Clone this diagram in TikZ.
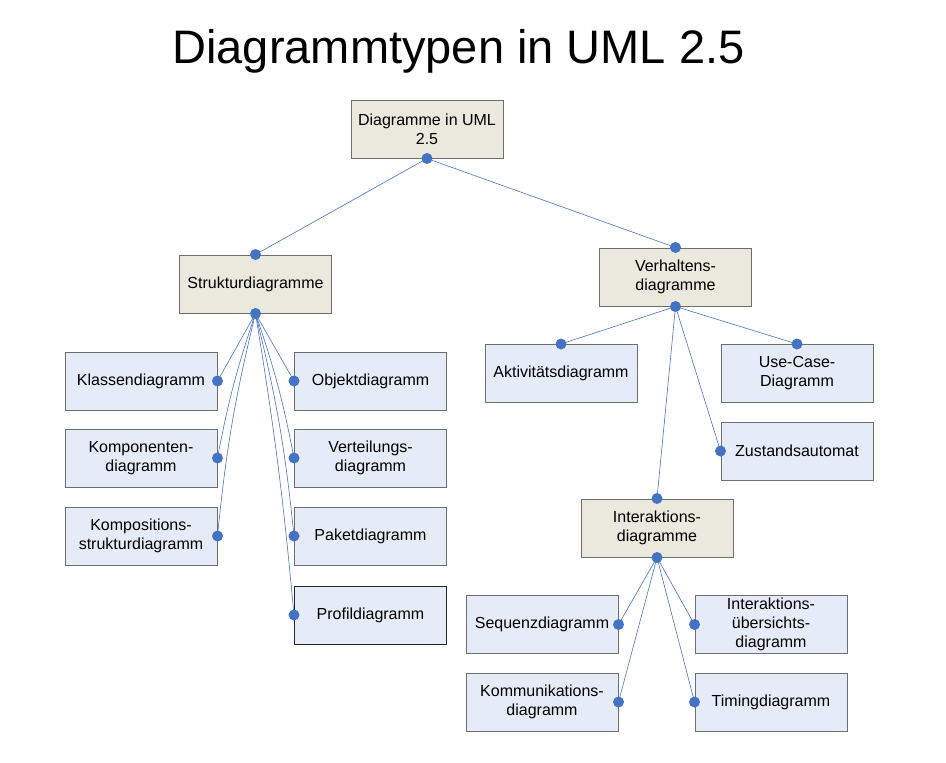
\documentclass[tikz,border=0pt]{standalone}
\usepackage{fontspec}
\setmainfont{Liberation Sans}
\definecolor{catfill}{HTML}{E9E9DE}
\definecolor{leaffill}{HTML}{E6ECF7}
\definecolor{boxline}{HTML}{6E6E6E}
\definecolor{dotblue}{HTML}{4472C4}
\begin{document}
\begin{tikzpicture}[x=1pt,y=-1pt,
  box/.style={draw=boxline,line width=1pt,minimum width=152pt,minimum height=58pt,inner sep=0pt,align=center,font=\fontsize{16}{19}\selectfont},
  cat/.style={box,fill=catfill},
  leaf/.style={box,fill=leaffill},
  dot/.style={circle,fill=dotblue,inner sep=0pt,minimum size=11pt},
  conn/.style={draw=dotblue,line width=0.6pt}]
\useasboundingbox (0,0) rectangle (946,763);
\node[anchor=base,font=\fontsize{47}{50}\selectfont] (title) at (458.5,63) {Diagrammtypen in UML 2.5};

\node[cat] (root) at (427,129) {Diagramme in UML\\2.5};
\node[cat] (struk) at (255.5,284) {Strukturdiagramme};
\node[cat] (verh) at (675.5,277) {Verhaltens-\\diagramme};
\node[cat] (inter) at (657,528) {Interaktions-\\diagramme};

\node[leaf] (klassen) at (141,381) {Klassendiagramm};
\node[leaf] (kompon) at (141,458) {Komponenten-\\diagramm};
\node[leaf] (kompos) at (141,536) {Kompositions-\\strukturdiagramm};
\node[leaf] (objekt) at (370.5,381) {Objektdiagramm};
\node[leaf] (vert) at (370.5,458) {Verteilungs-\\diagramm};
\node[leaf] (paket) at (370.5,536) {Paketdiagramm};
\node[leaf,draw=black!85] (profil) at (370.5,615) {Profildiagramm};

\node[leaf] (akt) at (561,373.5) {Aktivitätsdiagramm};
\node[leaf] (use) at (797,373.5) {Use-Case-\\Diagramm};
\node[leaf] (zust) at (797,451) {Zustandsautomat};

\node[leaf] (seq) at (542,624.5) {Sequenzdiagramm};
\node[leaf] (komm) at (542,702) {Kommunikations-\\diagramm};
\node[leaf] (ueber) at (771,624.5) {Interaktions-\\übersichts-\\diagramm};
\node[leaf] (timing) at (771,702) {Timingdiagramm};

% connectors
\draw[conn] (root.south) -- (struk.north);
\draw[conn] (root.south) -- (verh.north);
\draw[conn] (struk.south) -- (klassen.east);
\draw[conn] (struk.south) to[bend right=4] (kompon.east);
\draw[conn] (struk.south) to[bend right=4] (kompos.east);
\draw[conn] (struk.south) -- (objekt.west);
\draw[conn] (struk.south) to[bend left=4] (vert.west);
\draw[conn] (struk.south) to[bend left=4] (paket.west);
\draw[conn] (struk.south) to[bend left=2] (profil.west);
\draw[conn] (verh.south) -- (akt.north);
\draw[conn] (verh.south) -- (use.north);
\draw[conn] (verh.south) -- (zust.west);
\draw[conn] (verh.south) -- (inter.north);
\draw[conn] (inter.south) -- (seq.east);
\draw[conn] (inter.south) -- (komm.east);
\draw[conn] (inter.south) -- (ueber.west);
\draw[conn] (inter.south) -- (timing.west);

% dots
\foreach \p in {root.south,struk.north,struk.south,verh.north,verh.south,inter.north,inter.south,
  klassen.east,kompon.east,kompos.east,objekt.west,vert.west,paket.west,profil.west,
  akt.north,use.north,zust.west,seq.east,komm.east,ueber.west,timing.west}
  \fill[dotblue] (\p) circle (5.5pt);
\end{tikzpicture}
\end{document}
